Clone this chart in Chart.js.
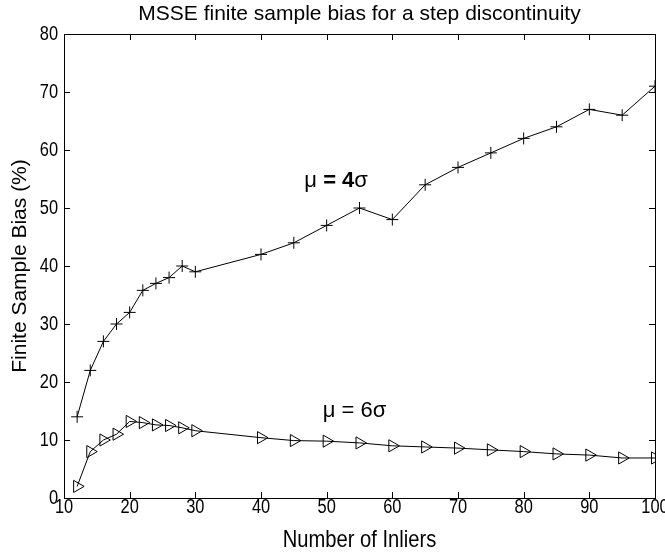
<!DOCTYPE html>
<html>
<head>
<meta charset="utf-8">
<script src="https://cdn.jsdelivr.net/npm/chart.js@4"></script>
<style>
  body { margin: 0; background: #fff; }
  canvas { display: block; }
</style>
</head>
<body>
<canvas id="biasChart" width="665" height="552"></canvas>
<script>
// Finite sample bias of MSSE against number of inliers, two step heights
const inliers = [12, 14, 16, 18, 20, 22, 24, 26, 28, 30, 40, 45, 50, 55, 60, 65, 70, 75, 80, 85, 90, 95, 100];
const bias4sigma = [14, 22, 27, 30, 32, 35.8, 37, 38, 40, 39, 42, 44, 47, 50, 48, 54, 57, 59.5, 62, 64, 67, 66, 71];
const bias6sigma = [2, 8, 10, 11, 13.2, 13, 12.6, 12.5, 12.1, 11.6, 10.4, 9.9, 9.8, 9.5, 9, 8.8, 8.6, 8.3, 8, 7.6, 7.4, 6.9, 6.9];

const xTicks = [10, 20, 30, 40, 50, 60, 70, 80, 90, 100];
const yTicks = [0, 10, 20, 30, 40, 50, 60, 70, 80];

const curveLabels = [
  { x: 46.6, y: 54.6, parts: [["μ", ""], [" = 4", "bold "], ["σ", ""]] },
  { x: 49.4, y: 15, parts: [["μ", ""], [" = 6", ""], ["σ", ""]] },
];

const FONT = "'Liberation Sans', Arial, sans-serif";

// condensed text: horizontally squeezed Liberation Sans
function narrowText(ctx, text, x, y, size, squeeze) {
  ctx.save();
  ctx.translate(x, y);
  ctx.scale(squeeze, 1);
  ctx.font = size + "px " + FONT;
  ctx.fillText(text, 0, 0);
  ctx.restore();
}

// Box outline, inward tick marks, tick labels, titles and curve labels
const framePlugin = {
  id: "frame",
  afterDraw(chart) {
    const { ctx, chartArea: a, scales } = chart;
    const tl = 6;
    ctx.save();
    ctx.strokeStyle = "#000";
    ctx.lineWidth = 1;
    ctx.strokeRect(Math.round(a.left) + 0.5, Math.round(a.top) + 0.5,
      Math.round(a.right - a.left), Math.round(a.bottom - a.top));
    ctx.beginPath();
    xTicks.forEach(v => {
      const px = Math.round(scales.x.getPixelForValue(v)) + 0.5;
      ctx.moveTo(px, a.bottom); ctx.lineTo(px, a.bottom - tl);
      ctx.moveTo(px, a.top); ctx.lineTo(px, a.top + tl);
    });
    yTicks.forEach(v => {
      const py = Math.round(scales.y.getPixelForValue(v)) + 0.5;
      ctx.moveTo(a.left, py); ctx.lineTo(a.left + tl, py);
      ctx.moveTo(a.right, py); ctx.lineTo(a.right - tl, py);
    });
    ctx.stroke();

    ctx.fillStyle = "#000";
    ctx.textBaseline = "middle";

    ctx.textAlign = "center";
    xTicks.forEach(v => narrowText(ctx, String(v), scales.x.getPixelForValue(v), a.bottom + 9, 20, 0.82));
    ctx.textAlign = "right";
    yTicks.forEach(v => narrowText(ctx, String(v), a.left - 6, scales.y.getPixelForValue(v), 20, 0.82));

    ctx.textAlign = "center";
    ctx.font = "21px " + FONT;
    ctx.fillText("MSSE finite sample bias for a step discontinuity", (a.left + a.right) / 2, 14);

    narrowText(ctx, "Number of Inliers", (a.left + a.right) / 2, 540, 24, 0.84);

    ctx.save();
    ctx.translate(20, (a.top + a.bottom) / 2);
    ctx.rotate(-Math.PI / 2);
    ctx.font = "21px " + FONT;
    ctx.fillText("Finite Sample Bias (%)", 0, 0);
    ctx.restore();

    ctx.textAlign = "left";
    curveLabels.forEach(lbl => {
      let px = scales.x.getPixelForValue(lbl.x);
      const py = scales.y.getPixelForValue(lbl.y);
      lbl.parts.forEach(([txt, weight]) => {
        ctx.font = weight + "22px " + FONT;
        ctx.fillText(txt, px, py);
        px += ctx.measureText(txt).width;
      });
    });
    ctx.restore();
  },
};

new Chart(document.getElementById("biasChart"), {
  type: "line",
  data: {
    datasets: [
      {
        label: "μ = 4σ",
        data: inliers.map((x, i) => ({ x, y: bias4sigma[i] })),
        borderColor: "#000",
        borderWidth: 1,
        pointStyle: "cross",
        pointRadius: 6,
        pointBorderColor: "#000",
        pointBorderWidth: 1,
        tension: 0,
      },
      {
        label: "μ = 6σ",
        data: inliers.map((x, i) => ({ x, y: bias6sigma[i] })),
        borderColor: "#000",
        borderWidth: 1,
        pointStyle: "triangle",
        rotation: 90,
        pointRadius: 7,
        pointBackgroundColor: "rgba(0,0,0,0)",
        pointBorderColor: "#000",
        pointBorderWidth: 1,
        tension: 0,
      },
    ],
  },
  options: {
    responsive: false,
    animation: false,
    layout: { padding: { top: 34, right: 10, left: 0, bottom: 0 } },
    plugins: { legend: { display: false }, tooltip: { enabled: false } },
    scales: {
      x: {
        type: "linear",
        min: 10,
        max: 100,
        afterBuildTicks: s => { s.ticks = xTicks.map(v => ({ value: v })); },
        afterFit: s => { s.height = 54; s.paddingLeft = 0; s.paddingRight = 0; },
        grid: { display: false, drawTicks: false },
        border: { display: false },
        ticks: { display: false },
      },
      y: {
        type: "linear",
        min: 0,
        max: 80,
        afterBuildTicks: s => { s.ticks = yTicks.map(v => ({ value: v })); },
        afterFit: s => { s.width = 64; s.paddingTop = 0; s.paddingBottom = 0; },
        grid: { display: false, drawTicks: false },
        border: { display: false },
        ticks: { display: false },
      },
    },
  },
  plugins: [framePlugin],
});
</script>
</body>
</html>
